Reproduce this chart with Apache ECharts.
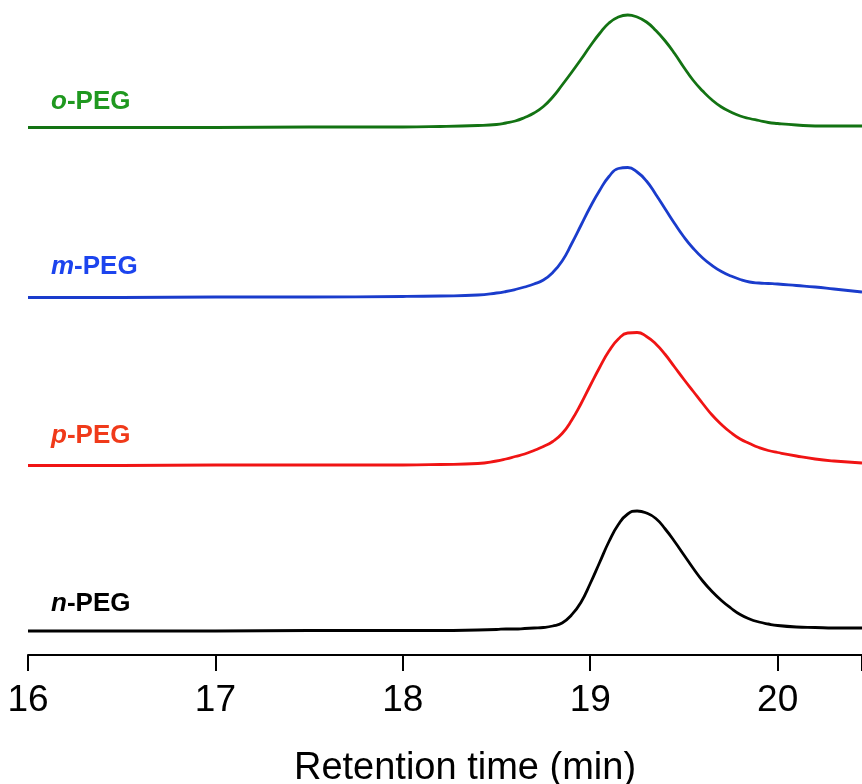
<!DOCTYPE html>
<html>
<head>
<meta charset="utf-8">
<script src="https://cdn.jsdelivr.net/npm/echarts@6/dist/echarts.min.js"></script>
<style>
  html, body { margin: 0; padding: 0; background: #fff; }
  #chart { width: 862px; height: 784px; }
</style>
</head>
<body>
<div id="chart"></div>
<script>
// Retention times (min) shared by all four GPC traces
const times = [16.0, 16.5, 17.0, 17.5, 18.0, 18.2, 18.4,
  18.5, 18.55, 18.6, 18.65, 18.7, 18.75, 18.8, 18.85, 18.9, 18.95,
  19.0, 19.05, 19.1, 19.15, 19.2, 19.25, 19.3, 19.35, 19.4, 19.45,
  19.5, 19.55, 19.6, 19.65, 19.7, 19.75, 19.8, 19.85, 19.9, 19.95,
  20.0, 20.1, 20.2, 20.3, 20.45];

// Detector signal (a.u.) above each trace's own baseline
const oPEG = [0, 0, 0, 0.1, 0.1, 0.2, 0.4,
  0.6, 0.9, 1.3, 2.0, 2.9, 4.2, 6.1, 8.5, 11.0, 13.6,
  16.3, 18.8, 20.9, 22.1, 22.5, 22.1, 21.1, 19.4, 17.3, 14.8,
  12.0, 9.4, 7.3, 5.5, 4.1, 3.1, 2.3, 1.8, 1.4, 1.0,
  0.8, 0.5, 0.3, 0.3, 0.3];
const mPEG = [0, 0, 0.1, 0.1, 0.2, 0.3, 0.5,
  0.9, 1.2, 1.6, 2.1, 2.7, 3.5, 5.0, 7.3, 10.7, 14.4,
  18.1, 21.4, 24.2, 25.8, 26.0, 25.1, 23.3, 20.6, 17.7, 14.8,
  12.1, 9.8, 7.9, 6.4, 5.2, 4.3, 3.6, 3.1, 2.9, 2.8,
  2.7, 2.4, 2.1, 1.7, 1.1];
const pPEG = [0, 0, 0.1, 0.1, 0.1, 0.2, 0.4,
  0.9, 1.3, 1.8, 2.3, 3.0, 3.8, 4.8, 6.4, 9.0, 12.3,
  16.0, 19.6, 22.9, 25.3, 26.5, 26.6, 25.8, 24.3, 22.2, 19.7,
  17.2, 14.8, 12.4, 10.1, 8.2, 6.6, 5.3, 4.4, 3.6, 3.0,
  2.6, 1.9, 1.3, 0.9, 0.5];
const nPEG = [0, 0, 0, 0.1, 0.1, 0.1, 0.2,
  0.3, 0.4, 0.4, 0.5, 0.6, 0.7, 1.0, 1.6, 3.2, 5.7,
  9.5, 13.7, 17.9, 21.3, 23.4, 24.0, 23.6, 22.5, 20.4, 17.9,
  15.2, 12.5, 10.0, 7.9, 6.1, 4.6, 3.3, 2.4, 1.8, 1.4,
  1.1, 0.8, 0.7, 0.6, 0.6];

// Vertical stacking offsets for the traces
const seriesNames = ['o-PEG', 'm-PEG', 'p-PEG', 'n-PEG'];
const seriesPrefix = ['o', 'm', 'p', 'n'];
const offsets = [105.5, 71.5, 37.9, 4.8];
const signals = [oPEG, mPEG, pPEG, nPEG];
const xTicks = [16, 17, 18, 19, 20];

const lineColors = ['#137313', '#1a3ccc', '#f01414', '#000000'];
const labelColors = ['#1f981f', '#1c44ee', '#f03a1a', '#000000'];
const labelY = [101, 266, 435, 603];

const FONT = '"Liberation Sans", Arial, Helvetica, sans-serif';

const series = signals.map((sig, k) => ({
  name: seriesNames[k],
  type: 'line',
  data: times.map((t, i) => [t, sig[i] + offsets[k]]),
  showSymbol: false,
  smooth: 0.5,
  lineStyle: { color: lineColors[k], width: 2.8 },
  silent: true,
  z: 3
}));

const labels = seriesPrefix.map((p, k) => ({
  type: 'text',
  left: 51,
  top: labelY[k] - 12,
  style: {
    text: '{i|' + p + '}{b|-PEG}',
    rich: {
      i: { fontFamily: FONT, fontSize: 26, fontWeight: 'bold', fontStyle: 'italic', fill: labelColors[k] },
      b: { fontFamily: FONT, fontSize: 26, fontWeight: 'bold', fill: labelColors[k] }
    }
  }
}));

const chart = echarts.init(document.getElementById('chart'), null, { renderer: 'canvas' });
chart.setOption({
  animation: false,
  backgroundColor: '#ffffff',
  grid: { left: 28, right: 0, top: 0, bottom: 129, containLabel: false, outerBoundsMode: 'none' },
  xAxis: {
    type: 'value',
    min: 16,
    max: 20.45,
    interval: 1,
    name: 'Retention time (min)',
    nameLocation: 'middle',
    nameGap: 95,
    nameTextStyle: { fontFamily: FONT, fontSize: 38, color: '#000', padding: [0, 0, 0, 40] },
    axisLine: { show: true, lineStyle: { color: '#000', width: 2 } },
    axisTick: { show: true, length: 16, lineStyle: { color: '#000', width: 2 } },
    axisLabel: {
      fontFamily: FONT, fontSize: 37, color: '#000', margin: 27,
      formatter: v => (xTicks.indexOf(v) >= 0 ? String(v) : '')
    },
    splitLine: { show: false }
  },
  yAxis: { type: 'value', min: 0, max: 131, show: false },
  series: series,
  graphic: labels
});
</script>
</body>
</html>
